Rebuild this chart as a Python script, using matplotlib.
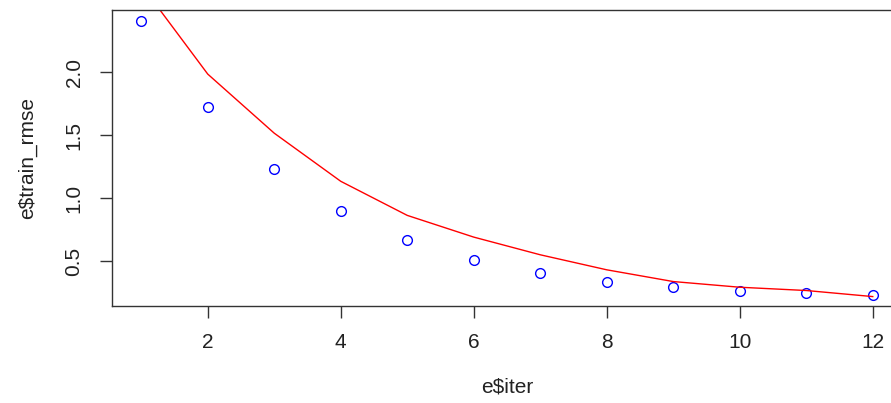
import matplotlib
matplotlib.use("Agg")
import matplotlib.pyplot as plt

# training log: rmse per boosting iteration and the fitted curve
iters = [1, 2, 3, 4, 5, 6, 7, 8, 9, 10, 11, 12]
train_rmse = [2.405, 1.722, 1.236, 0.902, 0.669, 0.508, 0.407, 0.336, 0.296, 0.267, 0.248, 0.238]
fitted = [2.69, 1.984, 1.516, 1.135, 0.865, 0.693, 0.553, 0.434, 0.341, 0.296, 0.270, 0.222]

x_ticks = [2, 4, 6, 8, 10, 12]
y_ticks = [0.5, 1.0, 1.5, 2.0]

plt.rcParams["font.family"] = ["Liberation Sans", "DejaVu Sans"]

W, H = 891, 403
fig = plt.figure(figsize=(W / 100, H / 100), dpi=100)
ax = fig.add_axes([112 / W, (H - 305.5) / H, (902 - 112) / W, 295.5 / H])

ax.plot(iters, train_rmse, linestyle="none", marker="o", markersize=7,
        markerfacecolor="none", markeredgecolor="#0000ff", markeredgewidth=1.0)
ax.plot(iters, fitted, color="#ff0000", linewidth=1.0)

# R-style 4% padding around the point range
span_x = max(iters) - min(iters)
span_y = max(train_rmse) - min(train_rmse)
ax.set_xlim(min(iters) - 0.04 * span_x, max(iters) + 0.04 * span_x)
ax.set_ylim(min(train_rmse) - 0.04 * span_y, max(train_rmse) + 0.04 * span_y)

ax.set_xticks(x_ticks)
ax.set_xticklabels([str(v) for v in x_ticks])
ax.set_yticks(y_ticks)
ax.set_yticklabels([f"{v:.1f}" for v in y_ticks], rotation=90, va="center")

for s in ax.spines.values():
    s.set_color("#333333")
    s.set_linewidth(1.0)
ax.tick_params(length=8.5, width=1.0, color="#333333", labelsize=15, labelcolor="#222222")
ax.tick_params(axis="x", pad=11)
ax.tick_params(axis="y", pad=12)

ax.set_xlabel("e$iter", fontsize=15, color="#222222", labelpad=19)
ax.set_ylabel("e$train_rmse", fontsize=15, color="#222222", labelpad=20)

fig.savefig("out.png", dpi=100)
